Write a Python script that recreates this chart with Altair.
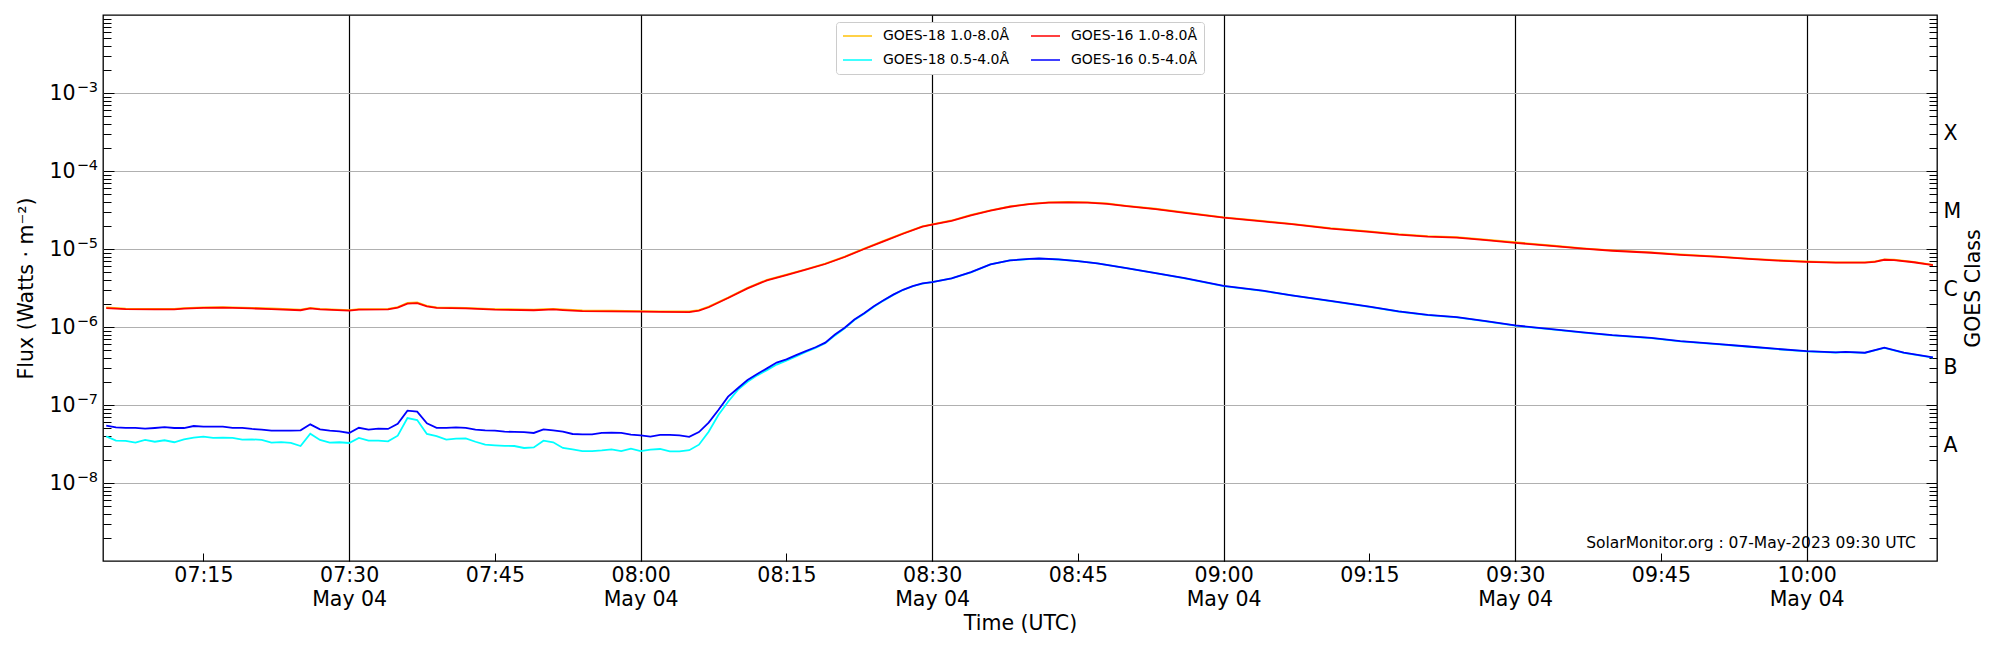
import altair as alt
import pandas as pd

DAY = "2023-05-04"

# ---------------- data ----------------
g16_long_t = ["07:05", "07:07", "07:10", "07:12", "07:13", "07:15", "07:17", "07:20", "07:22", "07:25",
              "07:26", "07:27", "07:30", "07:31", "07:34", "07:35", "07:36", "07:37", "07:38", "07:39",
              "07:42", "07:45", "07:49", "07:50", "07:51", "07:52", "07:54", "07:57", "08:00", "08:02",
              "08:05", "08:06", "08:07", "08:09", "08:11", "08:13", "08:15", "08:17", "08:19", "08:21",
              "08:23", "08:25", "08:27", "08:29", "08:30", "08:32", "08:34", "08:36", "08:38", "08:40",
              "08:42", "08:44", "08:46", "08:48", "08:50", "08:53", "08:56", "09:00", "09:04", "09:07",
              "09:11", "09:15", "09:18", "09:21", "09:24", "09:27", "09:30", "09:34", "09:37", "09:40",
              "09:44", "09:47", "09:51", "09:54", "09:57", "10:00", "10:03", "10:06", "10:07", "10:08",
              "10:09", "10:11", "10:13"]
g16_long_v = [1.75e-6, 1.69e-6, 1.68e-6, 1.68e-6, 1.72e-6, 1.76e-6, 1.77e-6, 1.73e-6, 1.70e-6, 1.64e-6,
              1.73e-6, 1.68e-6, 1.62e-6, 1.67e-6, 1.68e-6, 1.77e-6, 1.99e-6, 2.02e-6, 1.84e-6, 1.76e-6,
              1.73e-6, 1.67e-6, 1.64e-6, 1.66e-6, 1.68e-6, 1.65e-6, 1.60e-6, 1.59e-6, 1.57e-6, 1.56e-6,
              1.55e-6, 1.62e-6, 1.79e-6, 2.35e-6, 3.13e-6, 3.97e-6, 4.64e-6, 5.43e-6, 6.42e-6, 7.90e-6,
              1.00e-5, 1.25e-5, 1.57e-5, 1.93e-5, 2.05e-5, 2.29e-5, 2.70e-5, 3.10e-5, 3.48e-5, 3.76e-5,
              3.93e-5, 3.97e-5, 3.93e-5, 3.80e-5, 3.54e-5, 3.24e-5, 2.91e-5, 2.52e-5, 2.26e-5, 2.08e-5,
              1.83e-5, 1.66e-5, 1.53e-5, 1.44e-5, 1.40e-5, 1.30e-5, 1.20e-5, 1.09e-5, 1.01e-5, 9.50e-6,
              8.95e-6, 8.43e-6, 7.92e-6, 7.45e-6, 7.10e-6, 6.84e-6, 6.67e-6, 6.67e-6, 6.84e-6, 7.28e-6,
              7.20e-6, 6.76e-6, 6.20e-6]

g18_long_t = g16_long_t
g18_long_v = [1.78e-6, 1.72e-6, 1.71e-6, 1.71e-6, 1.75e-6, 1.79e-6, 1.80e-6, 1.76e-6, 1.73e-6, 1.67e-6,
              1.76e-6, 1.71e-6, 1.65e-6, 1.70e-6, 1.71e-6, 1.80e-6, 2.03e-6, 2.06e-6, 1.87e-6, 1.79e-6,
              1.76e-6, 1.70e-6, 1.67e-6, 1.69e-6, 1.71e-6, 1.68e-6, 1.63e-6, 1.62e-6, 1.60e-6, 1.59e-6,
              1.58e-6, 1.65e-6, 1.83e-6, 2.38e-6, 3.17e-6, 4.02e-6, 4.70e-6, 5.50e-6, 6.50e-6, 8.00e-6,
              1.01e-5, 1.27e-5, 1.59e-5, 1.95e-5, 2.07e-5, 2.32e-5, 2.73e-5, 3.13e-5, 3.52e-5, 3.80e-5,
              3.97e-5, 4.01e-5, 3.97e-5, 3.84e-5, 3.58e-5, 3.28e-5, 2.94e-5, 2.55e-5, 2.29e-5, 2.10e-5,
              1.85e-5, 1.68e-5, 1.55e-5, 1.46e-5, 1.42e-5, 1.32e-5, 1.22e-5, 1.10e-5, 1.02e-5, 9.60e-6,
              9.05e-6, 8.52e-6, 8.00e-6, 7.53e-6, 7.18e-6, 6.91e-6, 6.74e-6, 6.74e-6, 6.91e-6, 7.35e-6,
              7.28e-6, 6.83e-6, 6.27e-6]

g16_short_t = ["07:05", "07:06", "07:07", "07:08", "07:09", "07:10", "07:11", "07:12", "07:13", "07:14",
               "07:15", "07:16", "07:17", "07:18", "07:19", "07:20", "07:21", "07:22", "07:23", "07:24",
               "07:25", "07:26", "07:27", "07:28", "07:29", "07:30", "07:31", "07:32", "07:33", "07:34",
               "07:35", "07:36", "07:37", "07:38", "07:39", "07:40", "07:41", "07:42", "07:43", "07:44",
               "07:45", "07:46", "07:47", "07:48", "07:49", "07:50", "07:51", "07:52", "07:53", "07:54",
               "07:55", "07:56", "07:57", "07:58", "07:59", "08:00", "08:01", "08:02", "08:03", "08:04",
               "08:05", "08:06", "08:07", "08:08", "08:09", "08:10", "08:11", "08:12", "08:13", "08:14",
               "08:15", "08:16", "08:17", "08:18", "08:19", "08:20", "08:21", "08:22", "08:23", "08:24",
               "08:25", "08:26", "08:27", "08:28", "08:29", "08:30", "08:32", "08:34", "08:36", "08:38",
               "08:40", "08:41", "08:43", "08:45", "08:47", "08:50", "08:53", "08:56", "09:00", "09:04",
               "09:07", "09:11", "09:15", "09:18", "09:21", "09:24", "09:27", "09:30", "09:34", "09:37",
               "09:40", "09:44", "09:47", "09:51", "09:54", "09:57", "10:00", "10:03", "10:04", "10:06",
               "10:08", "10:10", "10:13"]
g16_short_v = [5.43e-8, 5.17e-8, 5.10e-8, 5.10e-8, 4.97e-8, 5.07e-8, 5.20e-8, 5.07e-8, 5.07e-8, 5.38e-8,
               5.27e-8, 5.27e-8, 5.27e-8, 5.10e-8, 5.10e-8, 4.93e-8, 4.83e-8, 4.68e-8, 4.68e-8, 4.68e-8,
               4.73e-8, 5.65e-8, 4.88e-8, 4.68e-8, 4.60e-8, 4.38e-8, 5.10e-8, 4.83e-8, 4.97e-8, 4.93e-8,
               5.76e-8, 8.46e-8, 8.20e-8, 5.82e-8, 5.10e-8, 5.10e-8, 5.17e-8, 5.10e-8, 4.83e-8, 4.73e-8,
               4.68e-8, 4.55e-8, 4.52e-8, 4.50e-8, 4.38e-8, 4.88e-8, 4.73e-8, 4.55e-8, 4.25e-8, 4.20e-8,
               4.20e-8, 4.38e-8, 4.43e-8, 4.38e-8, 4.16e-8, 4.09e-8, 3.93e-8, 4.13e-8, 4.13e-8, 4.09e-8,
               3.90e-8, 4.50e-8, 5.94e-8, 8.63e-8, 1.28e-7, 1.64e-7, 2.09e-7, 2.50e-7, 2.95e-7, 3.50e-7,
               3.85e-7, 4.35e-7, 4.90e-7, 5.50e-7, 6.30e-7, 8.00e-7, 9.80e-7, 1.25e-6, 1.50e-6, 1.84e-6,
               2.20e-6, 2.60e-6, 3.00e-6, 3.35e-6, 3.62e-6, 3.77e-6, 4.20e-6, 5.05e-6, 6.36e-6, 7.15e-6,
               7.45e-6, 7.55e-6, 7.35e-6, 7.00e-6, 6.55e-6, 5.70e-6, 4.90e-6, 4.22e-6, 3.36e-6, 2.92e-6,
               2.55e-6, 2.16e-6, 1.82e-6, 1.59e-6, 1.43e-6, 1.34e-6, 1.19e-6, 1.05e-6, 9.30e-7, 8.53e-7,
               7.85e-7, 7.25e-7, 6.60e-7, 6.02e-7, 5.62e-7, 5.23e-7, 4.91e-7, 4.74e-7, 4.80e-7, 4.68e-7,
               5.42e-7, 4.68e-7, 4.09e-7]

g18_short_t = g16_short_t
g18_short_v = [3.96e-8, 3.49e-8, 3.46e-8, 3.29e-8, 3.57e-8, 3.38e-8, 3.53e-8, 3.33e-8, 3.63e-8, 3.82e-8,
               3.93e-8, 3.78e-8, 3.82e-8, 3.80e-8, 3.60e-8, 3.63e-8, 3.57e-8, 3.29e-8, 3.35e-8, 3.26e-8,
               2.98e-8, 4.29e-8, 3.57e-8, 3.29e-8, 3.33e-8, 3.26e-8, 3.78e-8, 3.49e-8, 3.49e-8, 3.42e-8,
               4.04e-8, 6.81e-8, 6.42e-8, 4.25e-8, 4.00e-8, 3.60e-8, 3.70e-8, 3.74e-8, 3.38e-8, 3.10e-8,
               3.04e-8, 3.00e-8, 2.98e-8, 2.81e-8, 2.86e-8, 3.49e-8, 3.33e-8, 2.81e-8, 2.70e-8, 2.57e-8,
               2.57e-8, 2.62e-8, 2.70e-8, 2.57e-8, 2.75e-8, 2.57e-8, 2.68e-8, 2.73e-8, 2.54e-8, 2.54e-8,
               2.63e-8, 3.10e-8, 4.55e-8, 7.45e-8, 1.10e-7, 1.56e-7, 1.99e-7, 2.40e-7, 2.80e-7, 3.30e-7,
               3.70e-7, 4.20e-7, 4.80e-7, 5.40e-7, 6.20e-7, 7.80e-7, 9.60e-7, 1.23e-6, 1.48e-6, 1.82e-6,
               2.18e-6, 2.58e-6, 2.98e-6, 3.33e-6, 3.60e-6, 3.76e-6, 4.19e-6, 5.03e-6, 6.34e-6, 7.13e-6,
               7.43e-6, 7.52e-6, 7.33e-6, 6.98e-6, 6.53e-6, 5.68e-6, 4.89e-6, 4.21e-6, 3.35e-6, 2.91e-6,
               2.54e-6, 2.15e-6, 1.81e-6, 1.58e-6, 1.42e-6, 1.33e-6, 1.18e-6, 1.04e-6, 9.25e-7, 8.48e-7,
               7.80e-7, 7.20e-7, 6.56e-7, 5.98e-7, 5.58e-7, 5.19e-7, 4.88e-7, 4.71e-7, 4.77e-7, 4.65e-7,
               5.38e-7, 4.65e-7, 4.06e-7]

# legend order (Vega fills the two legend columns top to bottom)
series_names = ["GOES-18 1.0-8.0Å", "GOES-18 0.5-4.0Å", "GOES-16 1.0-8.0Å", "GOES-16 0.5-4.0Å"]
series_colors = ["#ffc20a", "#00ffff", "#ff0000", "#0000ff"]

x_tick_times = ["07:15", "07:30", "07:45", "08:00", "08:15", "08:30", "08:45", "09:00",
                "09:15", "09:30", "09:45", "10:00"]
x_major_times = ["07:30", "08:00", "08:30", "09:00", "09:30", "10:00"]
x_start, x_end = "07:04:40", "10:13:25"
y_major = [1e-8, 1e-7, 1e-6, 1e-5, 1e-4, 1e-3]
y_minor = [m * 10.0 ** e for e in range(-9, -2) for m in (2, 3, 4, 5, 6, 7, 8, 9)]
class_positions = [3e-8, 3e-7, 3e-6, 3e-5, 3e-4]
class_letters = ["A", "B", "C", "M", "X"]
watermark_text = "SolarMonitor.org : 07-May-2023 09:30 UTC"
watermark_time = "10:11:15"
watermark_flux = 1.69e-9

# ---------------- build table (draw order: GOES-18 under GOES-16) ----------------
rows = []
for name, ts, vs in [(series_names[0], g18_long_t, g18_long_v),
                     (series_names[1], g18_short_t, g18_short_v),
                     (series_names[2], g16_long_t, g16_long_v),
                     (series_names[3], g16_short_t, g16_short_v)]:
    assert len(ts) == len(vs), name
    for t, v in zip(ts, vs):
        rows.append({"time": f"{DAY}T{t}:00Z", "flux": v, "series": name})
df = pd.DataFrame(rows)


def ms(hms):
    if hms.count(":") == 1:
        hms += ":00"
    return int(pd.Timestamp(f"{DAY}T{hms}Z").timestamp() * 1000)


x_scale = alt.Scale(type="utc", domain=[ms(x_start), ms(x_end)])
y_scale = alt.Scale(type="log", domain=[1e-9, 1e-2])

FONT = "DejaVu Sans"
FS = 20.5

# time labels every 15 minutes with inward ticks
x_time = alt.Axis(orient="bottom", values=[ms(t) for t in x_tick_times],
                  labelExpr="utcFormat(datum.value, '%H:%M')",
                  labelFontSize=FS, labelPadding=4, labelAngle=0, labelOverlap=False, labelFlush=False,
                  tickSize=8, offset=-8, tickWidth=1, tickColor="black",
                  grid=False, domain=False, title=None)
# date line under the half-hour labels, plus the black half-hour grid lines
x_date = alt.Axis(orient="bottom", values=[ms(t) for t in x_major_times],
                  labelExpr="utcFormat(datum.value, '%b %d')",
                  labelFontSize=FS, labelPadding=28, labelAngle=0, labelOverlap=False, labelFlush=False,
                  ticks=False, grid=True, gridColor="black", gridWidth=1.2, domain=False,
                  title="Time (UTC)", titleFontSize=FS, titlePadding=4)

left_major = alt.Axis(orient="left", values=y_major, labels=False,
                      tickSize=11, offset=-11, tickWidth=1, tickColor="black",
                      grid=True, gridColor="#b0b0b0", gridWidth=1, domain=False, title=None)
left_minor = alt.Axis(orient="left", values=y_minor, labels=False, tickSize=8, offset=-8,
                      tickWidth=1, tickColor="black", grid=False, domain=False, title=None)
left_base = alt.Axis(orient="left", values=y_major, labelExpr="'10'", ticks=False, domain=False,
                     grid=False, labelFontSize=FS, labelPadding=28, labelFlush=False, labelOverlap=False,
                     title="Flux (Watts · m⁻²)", titleFontSize=FS, titlePadding=12)
left_exp = alt.Axis(orient="left", values=y_major,
                    labelExpr="'−' + round(-log(datum.value)/LN10)",
                    ticks=False, domain=False, grid=False, labelFontSize=14.5, labelPadding=5.5,
                    labelOffset=-6, labelFlush=False, labelOverlap=False, title=None)
right_major = alt.Axis(orient="right", values=y_major, labels=False, tickSize=11, offset=-11,
                       tickWidth=1, tickColor="black", grid=False, domain=False, title=None)
right_minor = alt.Axis(orient="right", values=y_minor, labels=False, tickSize=8, offset=-8,
                       tickWidth=1, tickColor="black", grid=False, domain=False, title=None)
letters_js = "[" + ",".join("'" + c + "'" for c in class_letters) + "]"
right_class = alt.Axis(
    orient="right", values=class_positions,
    labelExpr=letters_js + "[round(log(datum.value/3)/LN10) + 8]",
    ticks=False, domain=False, grid=False, labelPadding=6, labelFontSize=FS,
    labelFlush=False, labelOverlap=False,
    title="GOES Class", titleFontSize=FS, titleAngle=270, titleBaseline="top", titlePadding=3,
)

color = alt.Color(
    "series:N",
    scale=alt.Scale(domain=series_names, range=series_colors),
    legend=alt.Legend(
        title=None, orient="none", legendX=733, legendY=7, columns=2,
        symbolType="stroke", symbolSize=841, symbolStrokeWidth=1.5,
        labelFontSize=14, labelFont=FONT, labelOffset=10, labelLimit=400,
        clipHeight=16, rowPadding=8, columnPadding=20, padding=6,
        strokeColor="#cccccc", fillColor="white", cornerRadius=3,
    ),
)

base = alt.Chart(df)

lines = base.mark_line(strokeWidth=1.8, clip=True).encode(
    x=alt.X("time:T", scale=x_scale, axis=x_time),
    y=alt.Y("flux:Q", scale=y_scale, axis=left_major),
    color=color,
)


def axis_layer(yax, xax=None):
    return base.mark_line(opacity=0).encode(
        x=alt.X("time:T", scale=x_scale, axis=xax),
        y=alt.Y("flux:Q", scale=y_scale, axis=yax),
    )


wm_df = pd.DataFrame({"time": [f"{DAY}T{watermark_time}Z"], "flux": [watermark_flux], "label": [watermark_text]})
watermark = alt.Chart(wm_df).mark_text(align="right", baseline="middle", fontSize=15.5, font=FONT,
                                       color="black").encode(
    x=alt.X("time:T", scale=x_scale, axis=None),
    y=alt.Y("flux:Q", scale=y_scale, axis=None),
    text="label:N",
)

chart = alt.layer(
    lines,
    axis_layer(left_minor, x_date),
    axis_layer(left_base),
    axis_layer(left_exp),
    axis_layer(right_major),
    axis_layer(right_minor),
    axis_layer(right_class),
    watermark,
).resolve_scale(x="shared", y="shared").resolve_axis(x="independent", y="independent").properties(
    width=1834, height=546,
    autosize=alt.AutoSizeParams(type="none"),
    padding={"left": 95, "top": 7, "right": 50, "bottom": 75},
).configure_view(
    stroke="black", strokeWidth=1.3
).configure_axis(
    labelFont=FONT, titleFont=FONT, labelColor="black", titleColor="black",
    titleFontWeight="normal", tickColor="black",
)

chart.save("out.html", embed_options={"renderer": "svg", "actions": False})
